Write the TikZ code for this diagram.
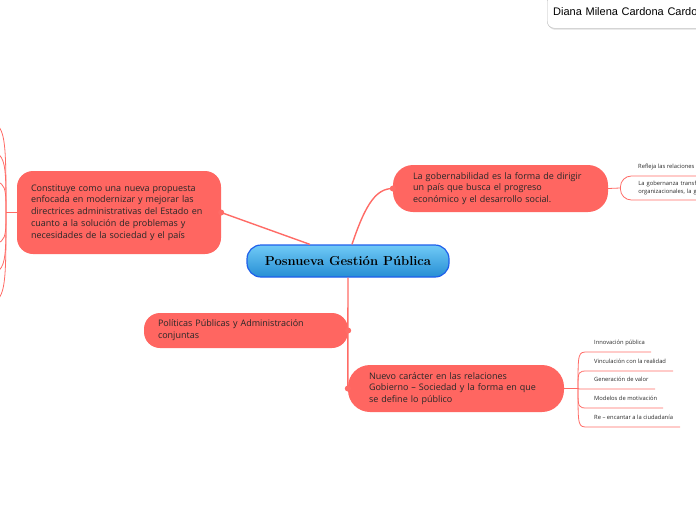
\documentclass[tikz,border=0pt]{standalone}
\usepackage{fontspec}
\newfontfamily\osans{Open Sans}
\newfontfamily\handfont{Liberation Sans}
\usetikzlibrary{calc,shadows}

\definecolor{topicred}{RGB}{255,102,97}
\definecolor{linered}{RGB}{255,107,102}
\definecolor{txtdark}{RGB}{40,40,40}
\definecolor{blueedge}{RGB}{30,95,235}
\definecolor{bluetop}{RGB}{112,202,246}
\definecolor{bluebot}{RGB}{38,142,212}

\tikzset{
  topic/.style={fill=topicred, text=txtdark, align=left, inner ysep=0pt,
    font=\osans\fontsize{9}{11.8}\selectfont},
  subtopic/.style={text=txtdark, align=left, anchor=south west, inner xsep=6pt,
    inner ysep=6pt, text height=4pt, text depth=1.5pt,
    font=\osans\fontsize{5.8}{7}\selectfont},
  conn/.style={draw=linered, line width=1.4pt},
  thinconn/.style={draw=linered, line width=0.8pt},
  knob/.style={fill=linered}
}

\begin{document}
\begin{tikzpicture}[x=1pt,y=-1pt]

\useasboundingbox (0,0) rectangle (696,520);
\clip (0,0) rectangle (696,520);

%central topic
\node[draw=blueedge, line width=1.2pt, top color=bluetop, bottom color=bluebot,
  rounded corners=14pt, minimum width=202pt, minimum height=32pt,
  font=\fontsize{13}{15}\selectfont\bfseries] (P) at (348,261) {Posnueva Gestión Pública};

%main topics
\node[topic, rounded corners=16pt, minimum height=83pt, text width=176pt, inner xsep=14pt] (A) at (119,212.5)
  {Constituye como una nueva propuesta\\enfocada en modernizar y mejorar las\\directrices administrativas del Estado en\\cuanto a la solución de problemas y\\necesidades de la sociedad y el país};
\node[topic, rounded corners=20pt, minimum height=47pt, text width=175pt, inner xsep=20pt] (B) at (500.5,188.5)
  {La gobernabilidad es la forma de dirigir\\un país que busca el progreso\\económico y el desarrollo social.};
\node[topic, rounded corners=16pt, minimum height=35pt, text width=176pt, inner xsep=14pt] (C) at (246,330.5)
  {Políticas Públicas y Administración\\conjuntas};
\node[topic, rounded corners=22pt, minimum height=47pt, text width=174pt, inner xsep=21pt] (D) at (456,388.5)
  {Nuevo carácter en las relaciones\\Gobierno – Sociedad y la forma en que\\se define lo público};

%title
\node[draw=gray!55, fill=white, rounded corners=7pt, anchor=north west,
  drop shadow={shadow xshift=0.8pt, shadow yshift=-1.5pt, opacity=0.25},
  minimum height=34pt, text width=170pt, inner xsep=6pt, align=left,
  font=\handfont\fontsize{11}{13}\selectfont] (T) at (547,-6) {Diana Milena Cardona Cardona};

%draw edges
\draw[conn] (A.east) -- ([xshift=-38pt]P.north);
\draw[conn] ([xshift=4pt]P.north) .. controls +(14,-42) and +(-16,0) .. (B.west);
\draw[conn] (P.south) -- (D.west);
\foreach \n/\a in {A/east,B/west,C/east,D/west}
  \fill[knob] (\n.\a) circle (3pt);

%left branches of A
\coordinate (Aj) at (6,212.5);
\draw[conn] (A.west) -- (Aj);
\foreach \yy [count=\i] in {120,150,180,245,275,305}{
  \coordinate (l\i) at (-30,\yy);
  \draw[thinconn] (Aj) .. controls (Aj |- l\i) .. (l\i);
}

%subtopics of B
\node[subtopic, anchor=base west, inner sep=0pt] (b1) at (638,168) {Refleja las relaciones entre actores};
\node[draw=linered, line width=0.8pt, rounded corners=11pt, anchor=west, minimum height=24pt,
  text width=120pt, inner xsep=18pt, inner ysep=2pt, align=left, text=txtdark,
  font=\osans\fontsize{5.8}{7.5}\selectfont] (b2) at (620,188)
  {La gobernanza transforma las estructuras\\organizacionales, la gestión};
\draw[thinconn] (B.east) -- (b2.west);

%subtopics of D
\coordinate (Dj) at (578,388.5);
\draw[thinconn] (D.east) -- (Dj);
\foreach \nm/\yy/\ww/\txt in {d1/352/63/Innovación pública,
                              d2/371/85/Vinculación con la realidad,
                              d3/389/67/Generación de valor,
                              d4/408/75/Modelos de motivación,
                              d5/427/92/Re – encantar a la ciudadanía}{
  \node[subtopic] (\nm) at (588,\yy) {\txt};
  \draw[thinconn] (Dj) .. controls (Dj |- \nm.south west) .. (\nm.south west) -- ++(\ww,0);
}

\end{tikzpicture}
\end{document}
